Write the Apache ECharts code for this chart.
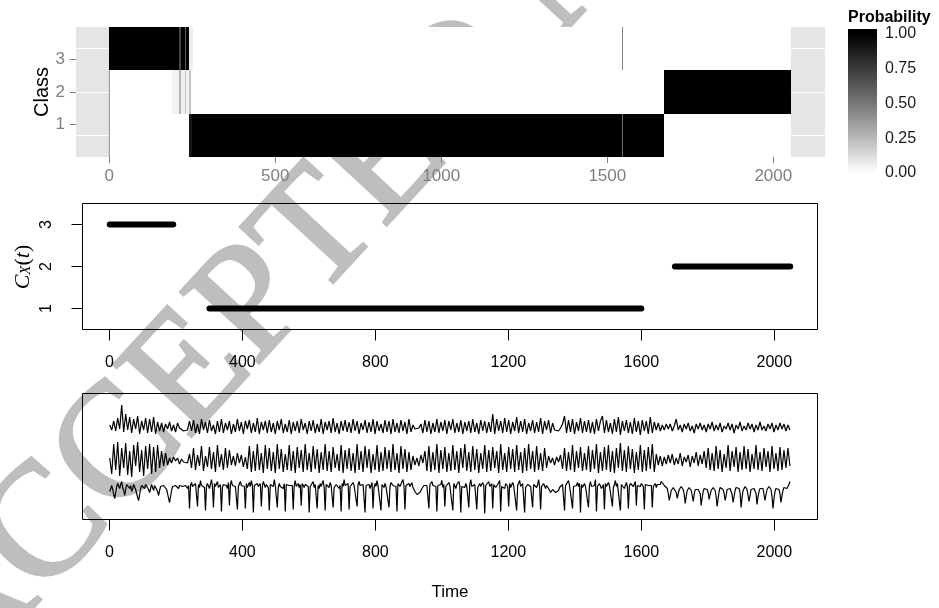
<!DOCTYPE html>
<html>
<head>
<meta charset="utf-8">
<script src="https://cdn.jsdelivr.net/npm/echarts@6/dist/echarts.min.js"></script>
<style>
html, body { margin: 0; padding: 0; background: #fff; }
#chart { width: 939px; height: 608px; }
</style>
</head>
<body>
<div id="chart"></div>
<script>
// ---- tick labels ----
const timeTicksTop = [0, 500, 1000, 1500, 2000];
const timeTicks = [0, 400, 800, 1200, 1600, 2000];
const classTicks = [1, 2, 3];
const legendTicks = [1.00, 0.75, 0.50, 0.25, 0.00];

// ---- posterior class probabilities: [start, end, probability] ----
const probClass1 = [
  [0, 241, 0], [241, 250, 0.93], [250, 1543, 1], [1543, 1546, 0.55],
  [1546, 1671, 1], [1671, 2052, 0]
];
const probClass2 = [
  [0, 188, 0], [188, 210, 0.04], [210, 215, 0.27], [215, 228, 0.06],
  [228, 232, 0.2], [232, 241, 0.05], [241, 245, 0.2], [245, 1671, 0],
  [1671, 2052, 1]
];
const probClass3 = [
  [0, 210, 1], [210, 215, 0.7], [215, 228, 1], [228, 232, 0.62],
  [232, 241, 1], [241, 253, 0.06], [253, 1543, 0], [1543, 1546, 0.45],
  [1546, 2052, 0]
];

// ---- true class path C_X(t): [start, end, class] ----
const classRuns = [
  [1, 192, 3],
  [301, 1600, 1],
  [1701, 2048, 2]
];

// ---- observed series; values start at t = 1 and are spaced by the given step ----
const seriesTopStep = 6;
const seriesTop = [
  2, -3, 6, -4, 9, -2, 22, -5, 13, -3, 10, -6, 8, -2, 11, -7, 6, -3, 9, -6,
  8, -5, 10, -7, 5, -4, 4, -5, 3, -2, 5, -4, 2, -5, 4, -1, -3, -4, -4, -3,
  6, -4, 7, -6, 3, -7, 8, -3, 5, -6, 7, -4, 2, -7, 6, -5, 8, -6, 4, -3,
  6, -7, 3, -5, 8, -4, 5, -7, 6, -2, 7, -6, 4, -5, 9, -7, 5, -3, 6, -6,
  7, -5, 4, -7, 6, -3, 8, -6, 3, -5, 7, -7, 5, -4, 6, -6, 8, -3, 4, -7,
  6, -4, 7, -6, 3, -5, 8, -7, 5, -3, 6, -6, 9, -5, 4, -7, 6, -4, 7, -5,
  5, -6, 8, -4, 6, -7, 4, -3, 7, -6, 5, -5, 8, -7, 6, -4, 3, -6, 7, -5,
  6, -7, 8, -5, 4, -6, 7, -4, 5, -7, 8, -5, 2, -2, -4, -1, 3, -6, 7, -5,
  6, -7, 4, -5, 8, -6, 5, -4, 7, -7, 6, -3, 8, -6, 4, -5, 7, -7, 5, -4,
  6, -6, 8, -5, 4, -7, 7, -4, 6, -6, 5, -5, 13, -7, 8, -4, 6, -6, 9, -5,
  7, -7, 5, -4, 10, -6, 6, -5, 8, -7, 4, -4, 7, -6, 5, -5, 9, -7, 6, -3,
  7, -6, 4, -3, -2, -4, -1, 3, 11, -6, 7, -5, 8, -7, 5, -4, 9, -6, 6, -5,
  7, -6, 5, -7, 8, -4, 6, 11, -6, 7, -5, 4, -7, 8, -5, 10, -8, 6, -4, 7,
  -6, 5, -7, 9, -5, 6, -8, 7, -4, 6, -7, 10, -6, 5, -3, 4, -4, 2, -3, 3,
  -2, 3, -4, 1, 8, -3, 2, -5, 3, -2, 4, -4, 1, -6, 3, -2, 4, -3, 2, -5,
  3, -2, 5, -4, 2, -3, 4, -5, 1, -2, 4, -3, 3, -6, 2, -2, 5, -4, 1, -3,
  4, -2, 3, -5, 2, -3, 5, -3, 1, -4, 3, -2, 4, -5, 2, -3, 4, -2, 3, -4,
  2, -3
];
const seriesMidStep = 6;
const seriesMid = [
  2, -14, 16, -10, 18, -16, 12, -8, 17, -15, 9, -17, 15, -6, 18, -12, 10, -16, 14, -9,
  16, -14, 13, -12, 15, -8, 9, -6, 7, -5, 2, -3, 3, -1, 2, -4, 1, -2, 0, -3,
  6, -8, 12, -10, 5, -6, 14, -11, 4, -7, 13, -9, 8, -12, 15, -7, 6, -10, 12, -8,
  10, -5, 4, -6, 7, -3, 5, -7, 3, -9, 14, -12, 9, -11, 16, -10, 7, -13, 15, -9,
  12, -11, 8, -13, 16, -9, 11, -12, 6, -10, 15, -11, 9, -13, 13, -8, 10, -12, 16, -10,
  7, -12, 14, -9, 11, -13, 8, -10, 16, -11, 9, -12, 13, -8, 6, -11, 15, -13, 10, -9,
  12, -11, 7, -13, 16, -10, 9, -12, 14, -8, 11, -13, 6, -10, 15, -12, 8, -11, 13, -9,
  10, -12, 16, -10, 7, -13, 14, -9, 11, -12, 8, -10, 4, -5, 2, -6, 5, -3, 9, -11,
  14, -12, 8, -10, 16, -13, 10, -9, 13, -12, 7, -11, 15, -10, 9, -13, 12, -8, 16, -11,
  8, -12, 14, -10, 11, -13, 7, -9, 15, -12, 10, -11, 13, -8, 9, -13, 16, -10, 7, -12,
  13, -9, 11, -12, 15, -10, 8, -13, 12, -11, 16, -9, 9, -12, 14, -10, 7, -11, 12, -8,
  4, -3, 2, -5, 3, -2, 5, -9, 12, -11, 8, -10, 15, -12, 9, -8, 13, -11, 7, -10,
  14, -12, 10, -9, 16, -13, 8, -11, 13, -10, 15, -12, 9, -13, 12, -8, 17, -11, 10, -12,
  14, -9, 11, -13, 8, -10, 15, -12, 10, -11, 13, -9, 16, -12, 6, -5, 4, -6, 3, -4,
  5, -3, 6, -5, 2, -4, 7, -6, 3, -2, 5, -7, 4, -3, 8, -6, 5, -4, 9, -8,
  12, -10, 7, -11, 14, -9, 10, -12, 6, -8, 15, -11, 9, -7, 13, -12, 8, -10, 14, -9,
  11, -12, 6, -9, 15, -10, 8, -11, 12, -7, 9, -12, 14, -9, 7, -11, 13, -10, 10, -8,
  12, -6
];
const seriesLowStep = 3;
const seriesLow = [
  -5, -2, 1, -3, -8, -12, -6, 0,
  3, 1, -2, 2, 5, -1, -4, -9,
  -3, 2, 4, 0, -2, 1, -5, -2,
  2, 0, -3, -7, -11, -14, -8, -2,
  1, 3, 0, -2, 2, 4, 1, -3,
  -6, -2, 2, 0, -4, 1, 3, -1,
  -5, -9, -4, 0, 2, -1, 1, 3,
  0, -3, -7, -12, -16, -10, -4, 0,
  2, -1, 1, 3, 0, -2, 1, 2,
  -1, 0, 2, -1, 1, 0, -2, 1,
  -22, 1, 4, 0, 2, -1, 3, 1,
  -20, 2, -1, 6, 1, 0, 2, -1,
  -24, 0, 3, 1, -2, 2, 7, 0,
  -21, 3, 0, 2, 5, -1, 1, 2,
  -25, -1, 2, 0, 3, 1, -2, 4,
  -19, 2, 6, 1, -1, 3, 0, 2,
  -23, 0, 2, 5, 1, -1, 2, 0,
  -22, 3, -1, 1, 4, 0, 6, 1,
  -26, 1, 2, -1, 3, 0, 1, 3,
  -20, 0, 5, 2, -1, 2, 0, -1,
  -24, 2, 1, 3, 0, 7, 1, 0,
  -21, -1, 3, 0, 2, 1, -2, 3,
  -25, 2, 0, 4, 1, -1, 3, 1,
  -23, 1, 6, 0, 2, 3, -1, 2,
  -19, 3, 1, -1, 2, 0, 4, 0,
  -26, 0, 2, 1, 5, -1, 2, 1,
  -22, 1, -2, 3, 0, 2, 6, -1,
  -24, 2, 3, 0, -1, 4, 1, 2,
  -21, -1, 1, 2, 3, 0, -2, 1,
  -25, 3, 0, 7, 1, 2, 0, 3,
  -23, 0, 2, -1, 4, 1, 3, 0,
  -20, 2, 5, 1, -1, 0, 2, 1,
  -26, 1, 0, 3, 2, -2, 1, 4,
  -22, -1, 3, 0, 6, 1, 0, 2,
  -24, 2, 1, -1, 3, 0, 2, -1,
  -21, 0, 4, 2, 1, 3, -1, 0,
  -25, 3, 1, 0, -2, 2, 7, 1,
  -23, 1, -1, 2, 3, 0, 2, 4,
  -1, -3, -5, -7, -8, -9, -8, -6,
  -4, -2, 0, 1, 0, -1, 1, 2,
  -22, 2, 0, 5, 1, -1, 3, 0,
  -25, 1, 3, 0, 2, 6, -1, 2,
  -20, 0, -1, 2, 4, 1, 0, 3,
  -24, 3, 1, -2, 2, 0, 5, 1,
  -26, 0, 2, 1, -1, 3, 0, 2,
  -21, 2, 7, 0, 1, -1, 2, 0,
  -23, -1, 1, 3, 0, 2, 4, 1,
  -27, 1, 0, 2, 5, 0, -1, 3,
  -22, 2, 3, -1, 1, 2, 0, 6,
  -25, 0, 1, 2, -2, 3, 1, 0,
  -20, 3, -1, 0, 4, 1, 2, -1,
  -24, 1, 2, 6, 0, -1, 3, 1,
  -26, -1, 0, 2, 1, 3, 0, 2,
  -21, 2, 4, 0, -1, 2, 7, 0,
  -23, 0, 1, 3, 2, -2, 1, 1,
  -2, -4, -6, -5, -3, -1, -3, -6,
  -8, -7, -4, -1, 1, 0, 2, 1,
  -24, 1, 3, 0, 6, 1, -1, 2,
  -22, 0, 2, -1, 1, 4, 0, 3,
  -26, 2, -1, 1, 3, 0, 2, 0,
  -21, 1, 5, 0, -1, 2, 1, 7,
  -25, 0, 2, 3, 1, -2, 0, 2,
  -23, 3, 0, 1, 4, 1, -1, 0,
  -20, -1, 2, 6, 0, 3, 1, 2,
  -24, 2, 1, 0, -2, 1, 4, 0,
  -22, 0, 3, 1, 2, 0, -1, 5,
  -19, 1, -1, 2, 0, 3, 1, 0,
  -23, 2, 4, 0, 1, -1, 2, 1,
  -21, 0, 1, 3, -1, 2, 0, 2,
  2, 5, 3, 4, 1, 3, 0, -2,
  -7, -14, -9, -4, -2, -1, -3, -2,
  -6, -12, -7, -3, -1, 0, -2, -3,
  -8, -17, -10, -4, -2, -1, -2, -4,
  -9, -15, -8, -3, -1, -2, -3, -2,
  -7, -19, -11, -5, -2, 0, -1, -3,
  -6, -13, -8, -4, -2, -1, -3, -4,
  -10, -20, -12, -5, -1, 0, -2, -3,
  -7, -14, -9, -3, -2, -1, -2, -1,
  -8, -16, -10, -4, -1, -2, -3, -2,
  -6, -21, -11, -4, -2, 0, -1, -3,
  -9, -15, -9, -3, -1, -2, -2, -4,
  -7, -18, -10, -5, -2, -1, -3, -2,
  -8, -14, -8, -3, -1, 0, -2, -3,
  -10, -22, -12, -5, -2, -1, -2, -3,
  -7, -16, -9, -4, -1, 0, -1, -2,
  -2, 2, 5
];

// vertical placement of each trace inside the bottom panel (axis runs 0..126)
const traceOffsets = { top: 92.5, mid: 59.5, low: 33 };

// white -> black gradient interpolated in CIE Lab lightness
function greyFor(p) {
  const L = 100 * (1 - p);
  const Y = L > 8 ? Math.pow((L + 16) / 116, 3) : L / 903.3;
  const s = Y <= 0.0031308 ? 12.92 * Y : 1.055 * Math.pow(Y, 1 / 2.4) - 0.055;
  const v = Math.max(0, Math.min(255, Math.round(s * 255)));
  return 'rgb(' + v + ',' + v + ',' + v + ')';
}

const tileData = [];
[[1, probClass1], [2, probClass2], [3, probClass3]].forEach(([cls, segs]) => {
  segs.forEach(s => tileData.push([s[0], s[1], cls, s[2]]));
});

function traceData(values, step, offset) {
  return values.map((v, i) => [1 + i * step, offset + v]);
}

const sans = '"Liberation Sans", Arial, Helvetica, sans-serif';
const serif = '"Liberation Serif", "Times New Roman", serif';
const plain = v => String(v);

// colour bar geometry
const barX = 848, barTop = 29, barW = 29, barH = 149, tickTop = 34, tickSpan = 139;
const barStops = legendTicks.map(p => ({
  offset: (tickTop + (1 - p) * tickSpan - barTop) / barH,
  color: greyFor(p)
}));
barStops.unshift({ offset: 0, color: greyFor(1) });
barStops.push({ offset: 1, color: greyFor(0) });

const legendGraphics = [
  {
    type: 'text', x: barX, y: 18, silent: true,
    style: { text: 'Probability', font: 'bold 16px ' + sans, fill: '#000',
             textAlign: 'left', textVerticalAlign: 'middle', align: 'left', verticalAlign: 'middle' }
  },
  {
    type: 'rect', silent: true,
    shape: { x: barX, y: barTop, width: barW, height: barH },
    style: { fill: new echarts.graphic.LinearGradient(0, 0, 0, 1, barStops) }
  }
].concat(legendTicks.map(p => ({
  type: 'text', x: 885, y: tickTop + (1 - p) * tickSpan, silent: true,
  style: { text: p.toFixed(2), font: '16px ' + sans, fill: '#1a1a1a',
           textAlign: 'left', textVerticalAlign: 'middle', align: 'left', verticalAlign: 'middle' }
})));

// y-axis title of the class-path panel, C_X(t)
const classPathTitle = {
  type: 'text', x: 23, y: 267, rotation: Math.PI / 2, silent: true,
  style: {
    text: '{c|C}{s|X}{p|(}{c|t}{p|)}',
    align: 'center', verticalAlign: 'middle', textAlign: 'center', textVerticalAlign: 'middle',
    rich: {
      c: { fontFamily: serif, fontStyle: 'italic', fontSize: 22, fill: '#000', color: '#000' },
      s: { fontFamily: serif, fontStyle: 'italic', fontSize: 15, fill: '#000', color: '#000', verticalAlign: 'bottom' },
      p: { fontFamily: serif, fontSize: 22, fill: '#000', color: '#000' }
    }
  }
};

const stampAngle = 47.3 * Math.PI / 180;
const stampGraphic = {
  type: 'text', x: -69, y: 656, rotation: stampAngle, z: -10, silent: true,
  style: { text: 'ACCEPTED MANUSCRIPT', font: '162px ' + serif, fill: '#bebebe',
           stroke: '#bebebe', lineWidth: 3, lineJoin: 'round',
           textAlign: 'left', textVerticalAlign: 'middle', align: 'left', verticalAlign: 'middle' }
};

const blackAxisLabel = { color: '#000', fontSize: 16, fontFamily: sans, formatter: plain };

const chart = echarts.init(document.getElementById('chart'), null, { renderer: 'canvas' });
chart.setOption({
  animation: false,
  backgroundColor: '#fff',
  graphic: [stampGraphic, classPathTitle].concat(legendGraphics),
  grid: [
    { left: 76, top: 27, width: 749, height: 130, show: true, backgroundColor: '#e5e5e5', borderWidth: 0 },
    { left: 82.5, top: 203.5, width: 735, height: 126, show: true, backgroundColor: 'transparent', borderColor: '#000', borderWidth: 1 },
    { left: 82.5, top: 393.5, width: 735, height: 126, show: true, backgroundColor: 'transparent', borderColor: '#000', borderWidth: 1 }
  ],
  xAxis: [
    {
      gridIndex: 0, type: 'value', min: -100.3, max: 2155.7,
      axisLine: { show: false, onZero: false },
      axisTick: { show: true, customValues: timeTicksTop, length: 6, lineStyle: { color: '#7f7f7f' } },
      axisLabel: { customValues: timeTicksTop, color: '#7f7f7f', fontSize: 17, fontFamily: sans, margin: 11, formatter: plain },
      splitLine: { show: false }
    },
    {
      gridIndex: 1, type: 'value', min: -80.88, max: 2129.88,
      axisLine: { show: false, onZero: false },
      axisTick: { show: true, customValues: timeTicks, length: 11, lineStyle: { color: '#000' } },
      axisLabel: Object.assign({ customValues: timeTicks, margin: 25 }, blackAxisLabel),
      splitLine: { show: false }
    },
    {
      gridIndex: 2, type: 'value', min: -80.88, max: 2129.88,
      name: 'Time', nameLocation: 'middle', nameGap: 64, nameMoveOverlap: false,
      nameTextStyle: { color: '#000', fontSize: 17, fontFamily: sans },
      axisLine: { show: false, onZero: false },
      axisTick: { show: true, customValues: timeTicks, length: 11, lineStyle: { color: '#000' } },
      axisLabel: Object.assign({ customValues: timeTicks, margin: 25 }, blackAxisLabel),
      splitLine: { show: false }
    }
  ],
  yAxis: [
    {
      // tile rows, centred on 1, 2, 3
      gridIndex: 0, type: 'value', min: 0.5, max: 3.5, position: 'left', offset: 0,
      axisLine: { show: false, onZero: false }, axisLabel: { show: false },
      axisTick: { show: false, customValues: classTicks },
      splitLine: { show: true, lineStyle: { color: '#ffffff', width: 1 } }
    },
    {
      gridIndex: 0, type: 'value', min: 0, max: 4, position: 'left', offset: 0,
      name: 'Class', nameLocation: 'middle', nameGap: 24, nameRotate: 90, nameMoveOverlap: false,
      nameTextStyle: { color: '#000', fontSize: 20, fontFamily: sans },
      axisLine: { show: false, onZero: false },
      axisTick: { show: true, customValues: classTicks, length: 6, lineStyle: { color: '#7f7f7f' } },
      axisLabel: { customValues: classTicks, color: '#7f7f7f', fontSize: 17, fontFamily: sans, margin: 11 },
      splitLine: { show: false }
    },
    {
      gridIndex: 1, type: 'value', min: 0.5, max: 3.5,
      axisLine: { show: false, onZero: false },
      axisTick: { show: true, customValues: classTicks, length: 11, lineStyle: { color: '#000' } },
      axisLabel: Object.assign({ customValues: classTicks, rotate: 90, margin: 28 }, blackAxisLabel),
      splitLine: { show: false }
    },
    {
      gridIndex: 2, type: 'value', min: 0, max: 126,
      axisLine: { show: false, onZero: false }, axisTick: { show: false }, axisLabel: { show: false },
      splitLine: { show: false }
    }
  ],
  series: [
    {
      type: 'custom', xAxisIndex: 0, yAxisIndex: 0, data: tileData,
      encode: { x: [0, 1], y: 2 }, silent: true, z: 3,
      renderItem: function (params, api) {
        const a = api.coord([api.value(0), api.value(2) + 0.5]);
        const b = api.coord([api.value(1), api.value(2) - 0.5]);
        const x0 = Math.round(a[0]), x1 = Math.max(Math.round(b[0]), x0 + 1);
        const y0 = Math.round(a[1]), y1 = Math.round(b[1]);
        return {
          type: 'rect',
          shape: { x: x0, y: y0, width: x1 - x0, height: y1 - y0 },
          style: { fill: greyFor(api.value(3)) }
        };
      }
    },
    {
      // left edge of the tile block where the rows are empty
      type: 'line', xAxisIndex: 0, yAxisIndex: 0, data: [[0, 0.5], [0, 2.5]],
      showSymbol: false, silent: true, z: 4,
      lineStyle: { color: '#8f8f8f', width: 1 }
    }
  ].concat(classRuns.map(run => ({
    type: 'line', xAxisIndex: 1, yAxisIndex: 2,
    data: [[run[0], run[2]], [run[1], run[2]]],
    showSymbol: false, silent: true,
    lineStyle: { color: '#000', width: 6, cap: 'round' }
  }))).concat([
    [seriesTop, seriesTopStep, traceOffsets.top],
    [seriesMid, seriesMidStep, traceOffsets.mid],
    [seriesLow, seriesLowStep, traceOffsets.low]
  ].map(([vals, step, off]) => ({
    type: 'line', xAxisIndex: 2, yAxisIndex: 3,
    data: traceData(vals, step, off),
    showSymbol: false, silent: true, sampling: null,
    lineStyle: { color: '#000', width: 1.2 }
  })))
});
</script>
</body>
</html>
